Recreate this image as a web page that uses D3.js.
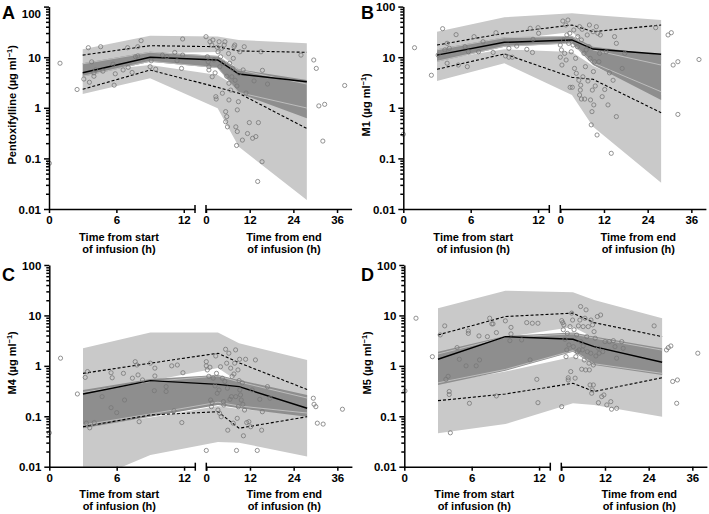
<!DOCTYPE html>
<html><head><meta charset="utf-8">
<script src="https://cdn.jsdelivr.net/npm/d3@7"></script>
<style>
body{margin:0;background:#fff}
text{font-family:"Liberation Sans",Arial,sans-serif;font-weight:bold;fill:#000}
</style>
</head><body>
<svg id="c" width="709" height="514"></svg>
<script>
// ---- shared band time vertices (segment 1 = from start of infusion, 2 = from end of infusion)
const bandSeg = [1, 1, 2, 2, 2];
const bandT   = [3, 9, 3.2, 9, 27.7];
const yTickVals = [0.01, 0.1, 1, 10, 100];
const yTickLabels = ["0.01", "0.1", "1", "10", "100"];
const x1Ticks = [0, 6, 12];
const x2Ticks = [0, 12, 24, 36];

// ---- Panel A: Pentoxifylline
const A_upTop = [14.3, 26.6, 25.7, 21.9, 18.8];
const A_upBot = [7.3, 12.1, 12.7, 5.6, 3.4];
const A_medTop = [7.57, 12.8, 10.6, 5.77, 3.54];
const A_medBot = [4.12, 8.15, 6.12, 1.96, 0.62];
const A_inU = [7.4, 12.5, 10.4, 5.6, 2.95];
const A_inL = [4.2, 8.3, 6.2, 2.0, 0.99];
const A_loTop = [5.1, 7.0, 4.45, 2.46, 0.9];
const A_loBot = [1.87, 3.83, 0.98, 0.17, 0.015];
const A_p95 = [11.0, 16.9, 16.1, 13.3, 12.5];
const A_p5 = [2.32, 5.58, 2.54, 1.94, 0.39];
const A_med = [4.94, 9.95, 8.81, 4.66, 3.28];
const A_obs1 = [[0.03,0.08],[0.98,7.6],[2.5,2.3],[3.1,3.7],[3.5,15.4],[3.6,3.2],[3.8,8.1],[4.0,4.9],[4.0,4.2],[4.15,5.6],[4.6,16.1],[4.8,5.3],[5.7,7.3],[5.8,2.8],[5.9,4.7],[6.6,5.6],[7.0,15.4],[7.05,6.3],[7.4,5.0],[7.7,10.2],[7.9,16.1],[7.9,10.6],[8.2,21.2],[9.0,6.5],[9.1,8.5],[9.5,5.8],[10.1,11.0],[10.5,10.2],[11.2,12.4],[11.4,8.5],[11.8,6.0],[11.9,22.9],[11.9,11.0]];
const A_obs2 = [[0,25.4],[0.37,10.2],[0.6,8.1],[0.8,6.5],[0.8,5.6],[1.1,20.2],[1.6,17.4],[1.7,4.1],[1.9,21.9],[2.2,8.8],[2.5,4.9],[2.7,1.66],[2.8,1.49],[3.1,15.7],[3.3,12.8],[3.6,20.2],[3.8,6.5],[4.0,10.2],[4.3,15.0],[4.5,1.94],[4.7,7.6],[5.0,17.4],[5.2,20.2],[5.4,0.53],[5.4,0.84],[5.7,0.67],[5.7,4.2],[5.9,0.42],[6.2,11.8],[6.3,1.43],[6.3,3.05],[6.5,7.6],[6.8,2.24],[7.1,4.1],[7.3,6.0],[7.5,9.5],[7.7,16.1],[7.9,17.4],[8.0,3.5],[8.2,0.42],[8.4,0.18],[8.5,2.7],[8.6,0.34],[8.6,0.91],[8.9,1.32],[9.1,4.8],[9.3,12.8],[10.0,0.23],[10.2,5.6],[10.5,16.1],[11,1.96],[11.4,0.31],[11.9,0.51],[12.8,0.25],[13.2,3.4],[13.7,0.27],[14.2,0.035],[14.4,0.51],[15.1,12.8],[15.4,0.086],[15.5,5.5],[16.9,2.95],[26.1,11.0],[29.6,8.8],[30.3,6.0],[31.0,1.09],[32.6,1.17],[32.1,0.22],[38.1,2.76]];

// ---- Panel B: M1
const B_upTop = [31.9, 61.5, 73.8, 68.2, 54.3];
const B_upBot = [10.6, 21.9, 31.5, 13.3, 8.8];
const B_medTop = [14.3, 24.7, 26.2, 16.1, 11.0];
const B_medBot = [8.15, 16.1, 18.8, 7.0, 1.43];
const B_inU = [14.0, 24.3, 25.8, 13.9, 7.0];
const B_inL = [8.3, 16.4, 19.1, 7.7, 2.08];
const B_loTop = [8.8, 14.3, 12.7, 6.7, 1.79];
const B_loBot = [3.39, 7.6, 1.79, 0.42, 0.033];
const B_p95 = [17.4, 29.7, 43.3, 31.9, 43.3];
const B_p5 = [5.77, 11.6, 4.0, 3.66, 0.80];
const B_med = [11.0, 19.7, 21.9, 14.5, 11.4];
const B_obs1 = [[0,0.30],[1.0,15.4],[2.5,4.4],[3.1,11.0],[3.5,36.6],[3.7,13.9],[3.9,7.6],[3.9,18.8],[4.1,15.0],[4.7,27.9],[4.9,7.0],[5.5,16.1],[5.7,6.5],[5.8,12.8],[6.3,25.5],[6.7,12.8],[7.1,20.2],[8.0,12.4],[8.25,30.5],[9.1,10.6],[9.4,15.0],[9.4,10.0],[9.7,10.0],[10.1,16.6],[11.0,14.3],[11.3,37.2],[11.5,12.4],[11.55,22.6],[12.0,38.3],[12.05,29.7]];
const B_obs2 = [[0,10.0],[0,17.4],[0.3,13.9],[0.45,7.0],[0.7,51.9],[0.9,21.9],[1.2,11.9],[1.5,43.3],[1.6,8.8],[1.8,27.5],[2.1,54.3],[2.3,18.8],[2.6,29.7],[2.7,2.54],[3.0,12.8],[3.3,2.54],[3.5,17.4],[3.7,34.5],[3.9,6.0],[4.2,9.5],[4.4,4.8],[4.7,16.1],[4.8,25.5],[5.1,3.5],[5.3,40.1],[5.3,1.79],[5.5,2.24],[5.6,2.8],[5.8,1.49],[5.8,21.9],[6.0,35.6],[6.2,4.1],[6.5,11.9],[6.7,1.49],[6.9,6.5],[7.1,13.9],[7.4,27.5],[7.6,3.39],[7.9,16.1],[8.0,43.3],[8.2,9.5],[8.3,1.43],[8.5,0.46],[8.7,0.84],[8.8,2.24],[9.0,31.9],[9.1,5.2],[9.2,1.14],[9.4,8.15],[9.6,2.7],[9.9,40.1],[10.1,0.29],[10.3,29.7],[10.6,8.15],[10.8,11.9],[11.0,27.5],[11.5,1.66],[12.2,2.3],[12.6,12.8],[13.1,1.14],[13.5,4.9],[14.0,0.126],[14.5,3.5],[14.9,25.5],[15.4,18.8],[15.4,0.67],[17.0,6.0],[17.7,11.9],[26.2,38.3],[29.6,27.5],[30.5,30.5],[31.0,7.0],[32.3,8.15],[32.3,0.74],[38.1,9.0]];

// ---- Panel C: M4
const C_upTop = [2.23, 4.56, 4.56, 2.81, 1.3];
const C_upBot = [0.316, 0.50, 0.91, 0.48, 0.24];
const C_medTop = [0.333, 0.55, 0.66, 0.525, 0.265];
const C_medBot = [0.058, 0.098, 0.168, 0.144, 0.098];
const C_inU = [0.297, 0.49, 0.63, 0.48, 0.23];
const C_inL = [0.067, 0.111, 0.19, 0.16, 0.116];
const C_loTop = [0.064, 0.095, 0.16, 0.14, 0.106];
const C_loBot = [0.0047, 0.017, 0.031, 0.030, 0.016];
const C_p95 = [0.71, 1.13, 1.78, 1.15, 0.34];
const C_p5 = [0.062, 0.106, 0.123, 0.058, 0.098];
const C_med = [0.277, 0.51, 0.43, 0.387, 0.144];
const C_obs1 = [[0,0.047],[1.0,1.42],[2.5,0.277],[3.2,0.59],[3.4,0.77],[3.3,0.073],[3.6,0.059],[4.0,0.075],[4.7,0.245],[5.5,0.73],[5.6,0.58],[5.5,0.148],[6.0,0.118],[6.6,0.71],[6.7,0.21],[7.4,0.57],[7.65,1.21],[7.8,1.04],[7.9,0.66],[8.0,0.078],[8.3,0.525],[9.0,1.13],[9.35,0.322],[9.4,0.63],[9.4,0.90],[10.4,0.387],[10.4,0.31],[10.9,1.0],[11.4,1.04],[11.8,0.075],[11.9,0.73],[11.1,0.129]];
const C_obs2 = [[0,1.21],[0,1.0],[0,0.021],[0.27,0.83],[0.7,0.62],[1.0,0.94],[1.2,0.21],[1.4,0.155],[1.6,0.186],[1.9,0.57],[2.4,0.40],[2.6,1.57],[2.8,0.71],[3.0,0.286],[3.2,0.133],[3.5,0.333],[3.65,0.115],[3.9,0.96],[4.1,0.098],[4.4,0.57],[4.7,0.195],[4.8,0.168],[5.1,0.49],[5.3,2.13],[5.6,1.13],[5.8,0.36],[5.9,0.053],[6.2,1.78],[6.5,0.217],[6.7,0.90],[6.9,0.245],[7.1,0.62],[7.4,0.073],[7.6,0.69],[7.8,1.13],[8.05,2.07],[8.1,0.245],[8.3,0.021],[8.5,0.091],[8.7,0.83],[8.8,0.155],[9.0,0.51],[9.15,1.35],[9.2,0.333],[9.4,0.265],[9.6,0.21],[9.9,0.46],[10.05,0.173],[10.2,0.041],[10.5,0.133],[10.8,1.35],[11.1,0.075],[11.7,0.078],[12.2,0.062],[12.6,0.333],[13.5,1.31],[14.0,0.021],[14.7,0.217],[15.2,0.053],[15.4,0.123],[16.8,0.387],[17.5,0.228],[29.4,0.228],[29.6,0.173],[30.1,0.155],[30.5,0.073],[32.1,0.070],[37.4,0.138]];

// ---- Panel D: M5
const D_upTop = [13.9, 31.0, 28.9, 20.3, 8.8];
const D_upBot = [1.79, 3.7, 5.9, 3.6, 2.07];
const D_medTop = [1.91, 3.92, 4.56, 3.8, 2.23];
const D_medBot = [0.418, 0.80, 1.91, 1.04, 0.66];
const D_inU = [1.72, 3.7, 4.3, 3.55, 2.05];
const D_inL = [0.46, 0.85, 2.0, 1.1, 0.71];
const D_loTop = [0.45, 0.77, 1.52, 1.13, 0.7];
const D_loBot = [0.046, 0.070, 0.181, 0.168, 0.098];
const D_p95 = [4.1, 9.5, 11.1, 7.2, 3.8];
const D_p5 = [0.204, 0.277, 0.45, 0.31, 0.58];
const D_med = [1.35, 3.8, 3.37, 2.40, 1.18];
const D_obs1 = [[0.06,0.318],[1.04,8.8],[2.5,1.52],[3.2,4.1],[3.6,6.2],[3.7,0.54],[3.9,0.62],[4.0,0.31],[4.0,0.27],[4.1,0.047],[4.7,2.30],[4.9,1.35],[5.5,1.0],[5.7,4.92],[5.7,4.4],[5.8,0.181],[6.4,1.0],[6.65,3.92],[6.7,1.31],[7.4,3.8],[7.6,8.8],[7.8,6.8],[7.9,6.8],[8.2,4.56],[8.2,0.253],[9.0,7.8],[9.4,3.16],[9.5,5.8],[9.5,4.3],[10.45,3.26],[10.9,7.2],[11.4,7.0],[11.2,1.31],[11.8,0.54],[11.9,7.0],[11.9,0.186]];
const D_obs2 = [[0.1,0.155],[0.1,7.9],[0.4,7.2],[0.55,5.2],[0.7,6.5],[1.0,3.37],[1.3,1.52],[1.5,2.07],[1.65,4.4],[1.9,0.58],[1.9,0.525],[2.1,2.6],[2.4,6.0],[2.6,0.77],[2.85,11.1],[3.1,8.1],[3.3,2.4],[3.5,5.2],[3.8,0.57],[4.0,1.52],[4.2,4.1],[4.4,1.91],[4.7,6.2],[4.9,2.07],[5.1,8.1],[5.3,15.0],[5.4,3.02],[5.6,0.857],[5.8,2.07],[6.0,6.0],[6.0,2.48],[6.3,1.31],[6.5,8.8],[6.7,0.83],[6.8,12.9],[7.0,3.8],[7.15,1.91],[7.4,6.0],[7.6,1.13],[7.7,0.83],[7.9,0.418],[8.1,1.78],[8.15,8.1],[8.35,0.286],[8.5,0.333],[8.6,6.5],[8.8,1.04],[8.8,0.418],[9.0,4.77],[9.3,3.53],[9.5,1.57],[9.9,9.5],[10.2,2.23],[10.2,0.186],[10.4,1.78],[10.8,10.2],[11.1,0.245],[11.4,1.91],[11.7,0.265],[12.0,3.02],[12.5,0.168],[13.2,3.02],[13.6,0.195],[13.8,0.138],[14.3,3.16],[14.75,2.4],[15.2,0.144],[15.2,1.42],[16.6,3.02],[17.0,2.23],[25.5,6.2],[28.9,2.07],[29.4,2.3],[30.1,2.48],[30.6,0.49],[31.9,0.525],[31.7,0.181],[37.5,1.78]];

const panels = [
  {id:"A", name:"Pentoxifylline", x0:49, yB:209, yT:6.6, lx:2, ly:19, topDy:7,
   upTop:A_upTop, upBot:A_upBot, medTop:A_medTop, medBot:A_medBot, inU:A_inU, inL:A_inL, loTop:A_loTop, loBot:A_loBot, p95:A_p95, p5:A_p5, med:A_med, obs1:A_obs1, obs2:A_obs2},
  {id:"B", name:"M1", x0:403.3, yB:209, yT:6.6, lx:361, ly:19, topDy:0,
   upTop:B_upTop, upBot:B_upBot, medTop:B_medTop, medBot:B_medBot, inU:B_inU, inL:B_inL, loTop:B_loTop, loBot:B_loBot, p95:B_p95, p5:B_p5, med:B_med, obs1:B_obs1, obs2:B_obs2},
  {id:"C", name:"M4", x0:49.3, yB:466.7, yT:265, lx:2, ly:281, topDy:0,
   upTop:C_upTop, upBot:C_upBot, medTop:C_medTop, medBot:C_medBot, inU:C_inU, inL:C_inL, loTop:C_loTop, loBot:C_loBot, p95:C_p95, p5:C_p5, med:C_med, obs1:C_obs1, obs2:C_obs2},
  {id:"D", name:"M5", x0:404.3, yB:466.7, yT:265, lx:361, ly:281, topDy:0,
   upTop:D_upTop, upBot:D_upBot, medTop:D_medTop, medBot:D_medBot, inU:D_inU, inL:D_inL, loTop:D_loTop, loBot:D_loBot, p95:D_p95, p5:D_p5, med:D_med, obs1:D_obs1, obs2:D_obs2}
];

const LIGHT = "#c9c9c9", DARK = "#8e8e8e", INNER = "#bdbdbd", PT = "#777";
const svg = d3.select("#c");

function drawPanel(P){
  const g = svg.append("g");
  const y = d3.scaleLog().domain([0.01, 100]).range([P.yB, P.yT]);
  const x1 = d3.scaleLinear().domain([0, 13]).range([P.x0, P.x0 + 146]);
  const x2 = d3.scaleLinear().domain([0, 40]).range([P.x0 + 157, P.x0 + 302.6]);
  const bx = i => bandSeg[i] === 1 ? x1(bandT[i]) : x2(bandT[i]);
  const idx = d3.range(bandT.length);

  const cid = "clip" + P.id;
  svg.append("clipPath").attr("id", cid).append("rect")
    .attr("x", P.x0).attr("y", P.yT).attr("width", 310).attr("height", P.yB - P.yT);
  const pg = g.append("g").attr("clip-path", `url(#${cid})`);

  const area = (top, bot) => d3.area().x(bx).y0(i => y(bot[i])).y1(i => y(top[i]))(idx);
  const line = arr => d3.line().x(bx).y(i => y(arr[i]))(idx);

  pg.append("path").attr("d", area(P.upTop, P.upBot)).attr("fill", LIGHT);
  pg.append("path").attr("d", area(P.loTop, P.loBot)).attr("fill", LIGHT);
  pg.append("path").attr("d", area(P.medTop, P.medBot)).attr("fill", DARK);
  [P.inU, P.inL].forEach(a => pg.append("path").attr("d", line(a))
    .attr("fill", "none").attr("stroke", INNER).attr("stroke-width", 1));
  [P.p95, P.p5].forEach(a => pg.append("path").attr("d", line(a))
    .attr("fill", "none").attr("stroke", "#000").attr("stroke-width", 1.1).attr("stroke-dasharray", "3,2"));
  pg.append("path").attr("d", line(P.med)).attr("fill", "none").attr("stroke", "#000").attr("stroke-width", 1.4);

  const pts = P.obs1.map(d => [x1(d[0]), y(d[1])]).concat(P.obs2.map(d => [x2(d[0]), y(d[1])]));
  g.append("g").selectAll("circle").data(pts).join("circle")
    .attr("cx", d => d[0]).attr("cy", d => d[1]).attr("r", 2.1)
    .attr("fill", "none").attr("stroke", PT).attr("stroke-width", 0.8);

  // Y axis
  const minor = [];
  for (let e = -2; e < 2; e++) for (let k = 2; k <= 9; k++) minor.push(k * Math.pow(10, e));
  const yMinor = g.append("g").attr("transform", `translate(${P.x0},0)`)
    .call(d3.axisLeft(y).tickValues(minor).tickFormat("").tickSize(3).tickSizeOuter(0));
  yMinor.select(".domain").remove();
  const yAx = g.append("g").attr("transform", `translate(${P.x0},0)`)
    .call(d3.axisLeft(y).tickValues(yTickVals).tickFormat((d, i) => yTickLabels[i]).tickSize(5).tickSizeOuter(0).tickPadding(3));
  yAx.selectAll("text").attr("font-size", 11.5).attr("font-family", null).attr("dy", (d) => d === 100 ? (P.topDy + 4) : 4);
  [yMinor, yAx].forEach(a => a.selectAll("line,path").attr("stroke", "#000").attr("stroke-width", 1.5));
  yAx.attr("font-family", null);

  // X axes
  const xa1 = g.append("g").attr("transform", `translate(0,${P.yB})`)
    .call(d3.axisBottom(x1).tickValues(x1Ticks).tickSize(4).tickSizeOuter(0).tickPadding(3));
  const xa2 = g.append("g").attr("transform", `translate(0,${P.yB})`)
    .call(d3.axisBottom(x2).tickValues(x2Ticks).tickSize(4).tickSizeOuter(0).tickPadding(3));
  [xa1, xa2].forEach(a => {
    a.attr("font-family", null);
    a.selectAll("line,path").attr("stroke", "#000").attr("stroke-width", 1.5);
    a.selectAll("text").attr("font-size", 11.5);
  });
  // break marks
  [x1(13), x2(0)].forEach(xx => g.append("line")
    .attr("x1", xx).attr("x2", xx).attr("y1", P.yB - 4).attr("y2", P.yB + 4)
    .attr("stroke", "#000").attr("stroke-width", 1.5));

  // X axis titles
  const t1 = P.x0 + 70, t2 = P.x0 + 235;
  [["Time from start", t1, 31.5], ["of infusion (h)", t1, 43.5], ["Time from end", t2, 31.5], ["of infusion (h)", t2, 43.5]]
    .forEach(([s, xx, dy]) => g.append("text").attr("x", xx).attr("y", P.yB + dy)
      .attr("text-anchor", "middle").attr("font-size", 11).text(s));

  // Y axis title
  const cy = (P.yT + P.yB) / 2 - 3, cx = P.x0 - 37;
  const yt = g.append("text").attr("transform", `translate(${cx},${cy}) rotate(-90)`)
    .attr("text-anchor", "middle").attr("dy", "0.35em").attr("font-size", 11);
  yt.append("tspan").text(P.name + " (µg ml");
  yt.append("tspan").attr("dy", -4).attr("font-size", 7.5).text("−1");
  yt.append("tspan").attr("dy", 4).text(")");

  // Panel letter
  g.append("text").attr("x", P.lx).attr("y", P.ly).attr("font-size", 18).text(P.id);
}
panels.forEach(drawPanel);
</script>
</body></html>
